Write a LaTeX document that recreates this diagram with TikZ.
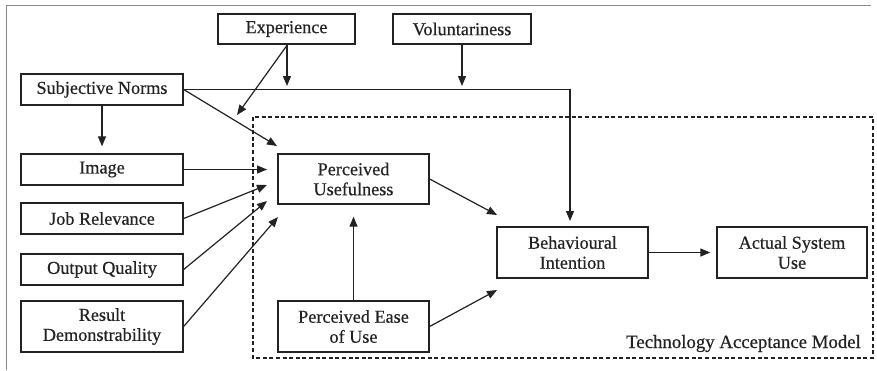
\documentclass[tikz,border=0pt]{standalone}
\usepackage{fontspec}
\setmainfont{Liberation Serif}
\newfontfamily\heavyserif{Liberation Serif}[FakeBold=0.5]
\usetikzlibrary{arrows.meta,calc}
\definecolor{ink}{HTML}{222222}
\definecolor{frame}{HTML}{8A8A8A}
\tikzset{
  box/.style={draw=ink, line width=1.3pt, inner sep=0pt, align=center,
    font=\heavyserif\fontsize{18.2}{20}\selectfont, text=ink},
  arr/.style={draw=ink, line width=1.2pt, -{Triangle[length=10pt,width=8pt]}},
  tamframe/.style={draw=ink, line width=1.2pt, dash pattern=on 4pt off 2.6pt},
}
\begin{document}
\begin{tikzpicture}[x=1pt,y=-1pt]
\useasboundingbox (0,0) rectangle (877,370);
\draw[frame, line width=1pt] (6,370) -- (6,5) -- (871,5);
\draw[tamframe] (253,117) rectangle (873,358);
\node[box, minimum width=137pt, minimum height=30pt] (exp) at (286.5,29) {Experience};
\node[box, minimum width=138pt, minimum height=30pt] (vol) at (462,29) {Voluntariness};
\node[box, minimum width=162pt, minimum height=31pt] (sn) at (102,89.5) {Subjective Norms};
\node[box, minimum width=162pt, minimum height=31pt] (img) at (102,169.5) {Image};
\node[box, minimum width=162pt, minimum height=31pt] (jr) at (102,218.5) {Job Relevance};
\node[box, minimum width=162pt, minimum height=31pt] (oq) at (102,269.5) {Output Quality};
\node[box, minimum width=162pt, minimum height=51pt] (rd) at (102,326.5) {Result\\Demonstrability};
\node[box, minimum width=151pt, minimum height=50pt] (pu) at (353.5,179) {Perceived\\Usefulness};
\node[box, minimum width=151pt, minimum height=51pt] (peou) at (353.5,326.5) {Perceived Ease\\of Use};
\node[box, minimum width=151pt, minimum height=51pt] (bi) at (572.5,252.5) {Behavioural\\Intention};
\node[box, minimum width=150pt, minimum height=51pt] (asu) at (792,252.5) {Actual System\\Use};
\node[anchor=base east, inner sep=0pt, text=ink, font=\heavyserif\fontsize{18.8}{20}\selectfont] (tam) at (861,348) {Technology Acceptance Model};
% free ends
\coordinate (expT) at (287,86);
\coordinate (expD) at (237,115);
\coordinate (volT) at (462,86);
\coordinate (snD) at (277,146);
\coordinate (imgT) at (267,169.5);
\coordinate (jrT) at (267,185);
\coordinate (oqT) at (267,201);
\coordinate (rdT) at (278,217);
\coordinate (puB) at (497,215);
\coordinate (peouB) at (497,290);
\coordinate (biT) at (570,221);
% connectors
\draw[arr] (sn.east) -- (570,89.5) -- (biT);
\draw[arr] (exp.south) ++(0.5,0) -- (expT);
\draw[arr] (exp.south) ++(1,0) -- (expD);
\draw[arr] (vol.south) -- (volT);
\draw[arr] (sn.east) -- (snD);
\draw[arr, shorten >=7pt] (sn.south) -- (img.north);
\draw[arr] (img.east) -- (imgT);
\draw[arr] (jr.east) -- (jrT);
\draw[arr] (oq.east) -- (oqT);
\draw[arr] (rd.east) -- (rdT);
\draw[arr, shorten >=12pt] (peou.north) -- (pu.south);
\draw[arr] (pu.east) -- (puB);
\draw[arr] (peou.east) -- (peouB);
\draw[arr, shorten >=6pt] (bi.east) -- (asu.west);
\end{tikzpicture}
\end{document}
